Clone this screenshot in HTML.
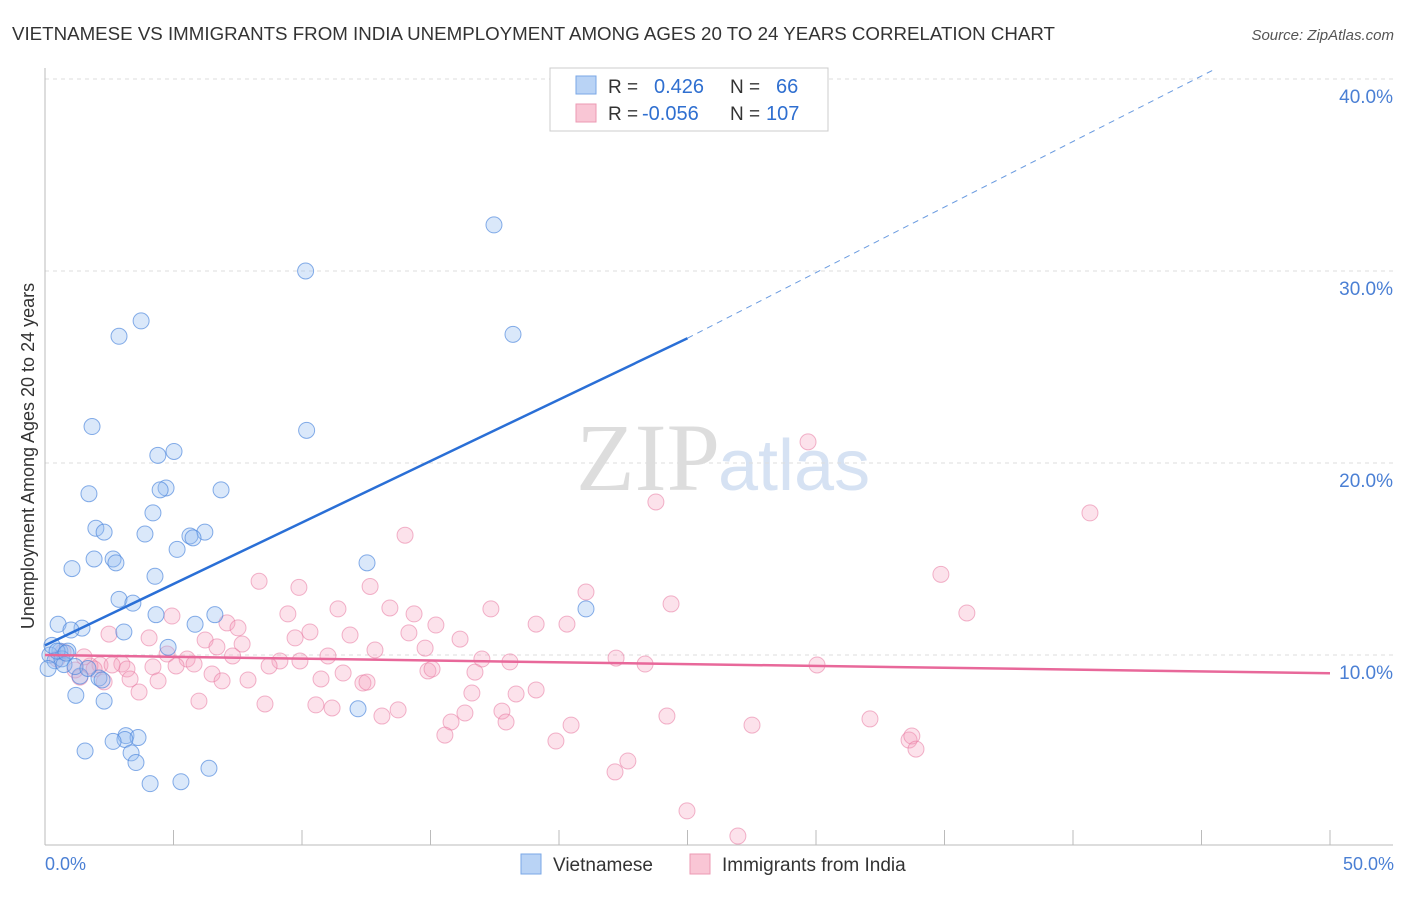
<!DOCTYPE html>
<html><head><meta charset="utf-8"><style>
body{margin:0;background:#fff;font-family:"Liberation Sans",sans-serif;}
</style></head><body>
<svg id="chart" width="1406" height="892" xmlns="http://www.w3.org/2000/svg">
<text x="12" y="40" font-size="18" fill="#333" textLength="1043" lengthAdjust="spacingAndGlyphs">VIETNAMESE VS IMMIGRANTS FROM INDIA UNEMPLOYMENT AMONG AGES 20 TO 24 YEARS CORRELATION CHART</text>
<text x="1394" y="40" font-size="15" fill="#555" font-style="italic" text-anchor="end">Source: ZipAtlas.com</text>
<text x="720" y="490" font-size="96" fill="#ddd" text-anchor="end" font-family="Liberation Serif,serif">ZIP</text>
<text x="718" y="490" font-size="72" fill="#d6e2f3">atlas</text>
<g id="grid"></g>
<line x1="45" y1="68" x2="45" y2="845" stroke="#bbb"/>
<line x1="45" y1="845" x2="1393" y2="845" stroke="#bbb"/>
<g id="ticks"></g>
<g id="pts"></g>
<g id="lines"></g>
<text transform="translate(34,456) rotate(-90)" font-size="18" fill="#333" text-anchor="middle">Unemployment Among Ages 20 to 24 years</text>
<text x="45" y="870" font-size="18" fill="#4a7fd4">0.0%</text>
<text x="1394" y="870" font-size="18" fill="#4a7fd4" text-anchor="end">50.0%</text>
<g>
<rect x="550" y="68" width="278" height="63" fill="#fff" stroke="#ccc"/>
<rect x="576" y="76" width="20" height="18" fill="#b9d3f5" stroke="#7aa7e6"/>
<rect x="576" y="104" width="20" height="18" fill="#f9c6d5" stroke="#ec9ab3"/>
<text x="608" y="93" font-size="19" fill="#333">R =</text><text x="654" y="93" font-size="20" fill="#2f6fd0">0.426</text>
<text x="730" y="93" font-size="19" fill="#333">N =</text><text x="776" y="93" font-size="20" fill="#2f6fd0">66</text>
<text x="608" y="120" font-size="19" fill="#333">R =</text><text x="642" y="120" font-size="20" fill="#2f6fd0">-0.056</text>
<text x="730" y="120" font-size="19" fill="#333">N =</text><text x="766" y="120" font-size="20" fill="#2f6fd0">107</text>
</g>
<g>
<rect x="521" y="854" width="20" height="20" fill="#b9d3f5" stroke="#7aa7e6"/>
<text x="553" y="871" font-size="19" fill="#333">Vietnamese</text>
<rect x="690" y="854" width="20" height="20" fill="#f9c6d5" stroke="#ec9ab3"/>
<text x="722" y="871" font-size="19" fill="#333">Immigrants from India</text>
</g>
</svg>
<script>
const yTicks=[10,20,30,40];
const xTicks=[0,5,10,15,20,25,30,35,40,45,50];
const blueX=[17.47,10.14,3.74,2.88,18.21,1.83,10.18,5.02,4.39,4.71,4.48,1.71,6.85,4.2,1.98,2.3,3.89,6.22,5.64,5.76,5.14,1.05,1.91,2.65,2.76,4.28,12.53,2.88,3.42,21.05,4.32,6.61,5.84,0.51,1.44,3.07,1.01,4.79,0.58,0.89,0.19,0.39,0.66,0.12,0.74,1.36,2.1,2.22,1.2,2.3,3.15,3.62,3.11,2.65,1.56,3.35,3.54,6.38,5.29,4.09,12.18,0.27,0.47,0.82,1.17,1.67];
const blueY=[32.4,30.0,27.4,26.6,26.7,21.9,21.7,20.6,20.4,18.7,18.6,18.4,18.6,17.4,16.6,16.4,16.3,16.4,16.2,16.1,15.5,14.5,15.0,15.0,14.8,14.1,14.8,12.9,12.7,12.4,12.1,12.1,11.6,11.6,11.4,11.2,11.3,10.4,10.2,10.2,10.0,9.7,9.8,9.3,9.5,8.9,8.8,8.7,7.9,7.6,5.8,5.7,5.6,5.5,5.0,4.9,4.4,4.1,3.4,3.3,7.2,10.5,10.2,10.1,9.4,9.3];
const pinkX=[29.69,23.77,40.66,14.01,34.86,8.33,9.88,12.65,21.05,24.36,35.87,17.35,11.4,13.42,14.36,9.45,7.08,4.94,15.21,19.11,20.31,7.51,10.31,11.87,14.16,4.05,9.73,16.15,6.23,7.67,2.49,6.69,12.84,14.79,4.75,11.01,7.3,9.14,9.92,5.53,17.0,18.09,22.22,23.35,30.04,2.99,2.14,3.19,4.2,1.17,1.75,5.1,8.72,5.8,11.6,14.9,16.73,10.74,15.06,6.5,6.89,7.9,2.3,3.31,4.4,12.37,12.53,16.61,18.33,19.11,3.66,8.56,5.99,10.54,11.17,13.74,13.11,16.34,17.78,24.2,32.1,15.8,17.94,20.47,27.51,15.56,19.88,33.62,33.73,33.89,22.68,22.18,24.98,26.96,0.47,1.52,0.7,1.91,1.36,2.61];
const pinkY=[21.1,17.97,17.4,16.24,14.2,13.84,13.52,13.57,13.28,12.66,12.19,12.4,12.4,12.45,12.14,12.14,11.67,12.03,11.56,11.61,11.61,11.41,11.2,11.04,11.15,10.89,10.89,10.83,10.78,10.57,11.09,10.42,10.26,10.36,10.05,9.95,9.95,9.69,9.69,9.79,9.79,9.64,9.84,9.53,9.48,9.53,9.48,9.27,9.38,9.22,9.43,9.43,9.43,9.53,9.06,9.17,9.11,8.75,9.27,9.01,8.65,8.7,8.6,8.75,8.65,8.54,8.59,8.02,7.97,8.18,8.07,7.45,7.6,7.4,7.24,7.14,6.82,6.98,7.08,6.82,6.67,6.51,6.51,6.35,6.35,5.83,5.52,5.57,5.78,5.1,4.48,3.91,1.88,0.57,9.79,9.9,10.16,9.27,8.85,9.48];
const blueLine=[0,10.5,25,26.5,45.5,40.5];
const pinkLine=[0,10.0,50,9.05];
const X=v=>45+v/50*1285, Y=v=>847-v*19.2;
const NS="http://www.w3.org/2000/svg";
function mk(tag,attrs,parent){const e=document.createElementNS(NS,tag);for(const k in attrs)e.setAttribute(k,attrs[k]);document.getElementById(parent).appendChild(e);return e;}
yTicks.forEach(t=>{
 const l=mk('line',{x1:45,x2:1393,y1:Y(t),y2:Y(t),stroke:'#ddd','stroke-dasharray':'4,4'},'grid');
 
 
 const tx=mk('text',{x:1393,y:Y(t)+24,'font-size':19,fill:'#4a7fd4','text-anchor':'end'},'grid');
 tx.textContent=t.toFixed(1)+'%';
 
 
});
xTicks.forEach(t=>{
 const l=mk('line',{x1:X(t),x2:X(t),y1:830,y2:845,stroke:'#bbb'},'ticks');
 
 
});
pinkX.forEach((v,i)=>{
 const c=mk('circle',{cx:X(v),cy:Y(pinkY[i]),r:8,fill:'rgba(245,160,190,0.3)',stroke:'rgba(232,120,160,0.55)','stroke-width':1},'pts');
 
 
});
blueX.forEach((v,i)=>{
 const c=mk('circle',{cx:X(v),cy:Y(blueY[i]),r:8,fill:'rgba(150,190,240,0.35)',stroke:'rgba(70,130,220,0.65)','stroke-width':1},'pts');
 
 
});
let b=mk('line',{x1:X(blueLine[0]),y1:Y(blueLine[1]),x2:X(blueLine[2]),y2:Y(blueLine[3]),stroke:'#2a6fd6','stroke-width':2.5},'lines');


let bd=mk('line',{x1:X(blueLine[2]),y1:Y(blueLine[3]),x2:X(blueLine[4]),y2:Y(blueLine[5]),stroke:'#6a9be0','stroke-width':1,'stroke-dasharray':'6,5'},'lines');


let p=mk('line',{x1:X(pinkLine[0]),y1:Y(pinkLine[1]),x2:X(pinkLine[2]),y2:Y(pinkLine[3]),stroke:'#e8689a','stroke-width':2.5},'lines');


</script>
</body></html>
